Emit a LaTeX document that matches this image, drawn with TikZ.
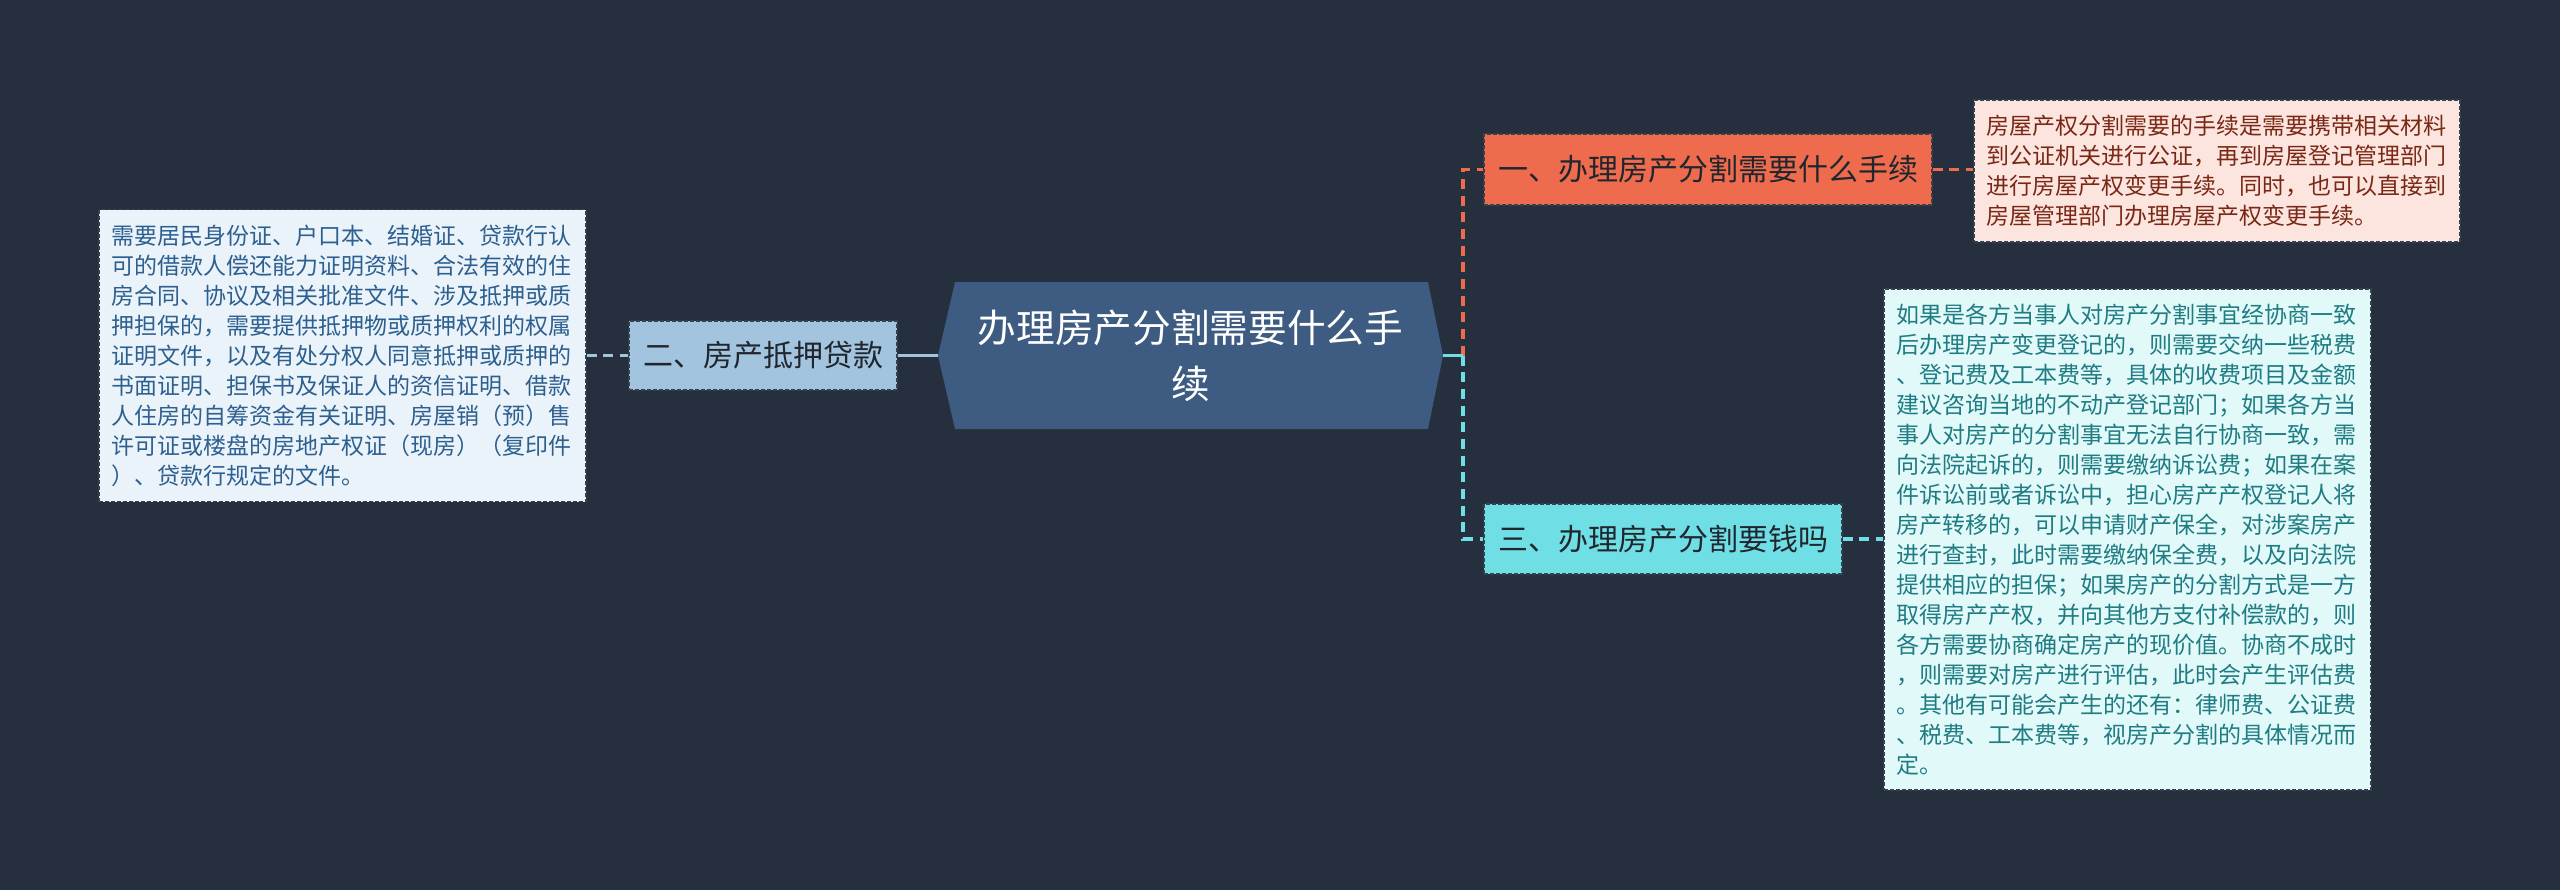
\documentclass[tikz,border=0pt]{standalone}
\usepackage{fontspec}
\newfontfamily\cjk{Noto Sans CJK SC}
\definecolor{bg}{HTML}{262F3D}
\definecolor{hexc}{HTML}{3E5C82}
\definecolor{bluef}{HTML}{A3C4DE}
\definecolor{bluedet}{HTML}{EAF3FA}
\definecolor{bluetxt}{HTML}{2D5F8F}
\definecolor{orf}{HTML}{EF6B4E}
\definecolor{ordet}{HTML}{FDE5DF}
\definecolor{ortxt}{HTML}{7A2816}
\definecolor{cyf}{HTML}{6FDFE5}
\definecolor{cydet}{HTML}{E2F9FA}
\definecolor{cytxt}{HTML}{1E7C82}
\definecolor{darktxt}{HTML}{20262E}
\definecolor{bordc}{HTML}{36414F}
\tikzset{
  det/.style={rectangle, inner sep=0pt, align=left, text width=346pt,
    font=\cjk\fontsize{17.25}{22.5}\selectfont, draw=bordc, line width=1pt,
    dash pattern=on 3pt off 1.5pt},
  br/.style={rectangle, inner sep=0pt, align=center, text=darktxt,
    font=\cjk\fontsize{22.5}{27}\selectfont, draw=bordc, line width=1pt,
    dash pattern=on 3pt off 1.5pt},
  rootnode/.style={rectangle, inner sep=0pt, align=center, text=white,
    font=\cjk\fontsize{29}{42}\selectfont, minimum width=378.75pt, minimum height=110.25pt},
  link/.style={line width=2.6pt, dash pattern=on 7.5pt off 5pt},
  solidlink/.style={line width=2.6pt},
}
\begin{document}
\begin{tikzpicture}[x=0.75pt,y=-0.75pt]
\fill[bg] (0,0) rectangle (2560,890);
\useasboundingbox (0,0) rectangle (2560,890);

% central hexagon
\fill[hexc] (938,355.5) -- (955,282) -- (1428,282) -- (1443,355.5) -- (1428,429) -- (955,429) -- cycle;
\node[rootnode] (root) at (1190.5,355.5) {办理房产分割需要什么手\\续};

% left branch
\node[br, fill=bluef, minimum width=201pt, minimum height=51.75pt] (n2) at (763,355.5) {二、房产抵押贷款};
\node[det, fill=bluedet, text=bluetxt, minimum width=365.25pt, minimum height=219pt] (ldet) at (342.5,355.5)
{需要居民身份证、户口本、结婚证、贷款行认\\
可的借款人偿还能力证明资料、合法有效的住\\
房合同、协议及相关批准文件、涉及抵押或质\\
押担保的，需要提供抵押物或质押权利的权属\\
证明文件，以及有处分权人同意抵押或质押的\\
书面证明、担保书及保证人的资信证明、借款\\
人住房的自筹资金有关证明、房屋销（预）售\\
许可证或楼盘的房地产权证（现房）（复印件\\
）、贷款行规定的文件。};

% right branches
\node[br, fill=orf, minimum width=336pt, minimum height=53.25pt] (n1) at (1708,169.5) {一、办理房产分割需要什么手续};
\node[det, fill=ordet, text=ortxt, minimum width=364.5pt, minimum height=106.5pt] (d1) at (2217,171)
{房屋产权分割需要的手续是需要携带相关材料\\
到公证机关进行公证，再到房屋登记管理部门\\
进行房屋产权变更手续。同时，也可以直接到\\
房屋管理部门办理房屋产权变更手续。};

\node[br, fill=cyf, minimum width=268.5pt, minimum height=52.5pt] (n3) at (1663,539) {三、办理房产分割要钱吗};
\node[det, fill=cydet, text=cytxt, minimum width=365.25pt, minimum height=375.75pt] (d3) at (2127.5,539.5)
{如果是各方当事人对房产分割事宜经协商一致\\
后办理房产变更登记的，则需要交纳一些税费\\
、登记费及工本费等，具体的收费项目及金额\\
建议咨询当地的不动产登记部门；如果各方当\\
事人对房产的分割事宜无法自行协商一致，需\\
向法院起诉的，则需要缴纳诉讼费；如果在案\\
件诉讼前或者诉讼中，担心房产产权登记人将\\
房产转移的，可以申请财产保全，对涉案房产\\
进行查封，此时需要缴纳保全费，以及向法院\\
提供相应的担保；如果房产的分割方式是一方\\
取得房产产权，并向其他方支付补偿款的，则\\
各方需要协商确定房产的现价值。协商不成时\\
，则需要对房产进行评估，此时会产生评估费\\
。其他有可能会产生的还有：律师费、公证费\\
、税费、工本费等，视房产分割的具体情况而\\
定。};

% connectors
\coordinate (tr) at (1463,355.5);
\draw[link, bluef] (ldet.east) -- (n2.west);
\draw[solidlink, bluef] (n2.east) -- (root.west);
\draw[link, orf] (tr) |- (n1.west);
\draw[link, cyf] (tr) |- (n3.west);
\draw[solidlink, cyf] (root.east) -- (tr);
\draw[link, orf] (n1.east) -- (n1.east -| d1.west);
\draw[link, cyf] (n3.east) -- (n3.east -| d3.west);
\end{tikzpicture}
\end{document}
